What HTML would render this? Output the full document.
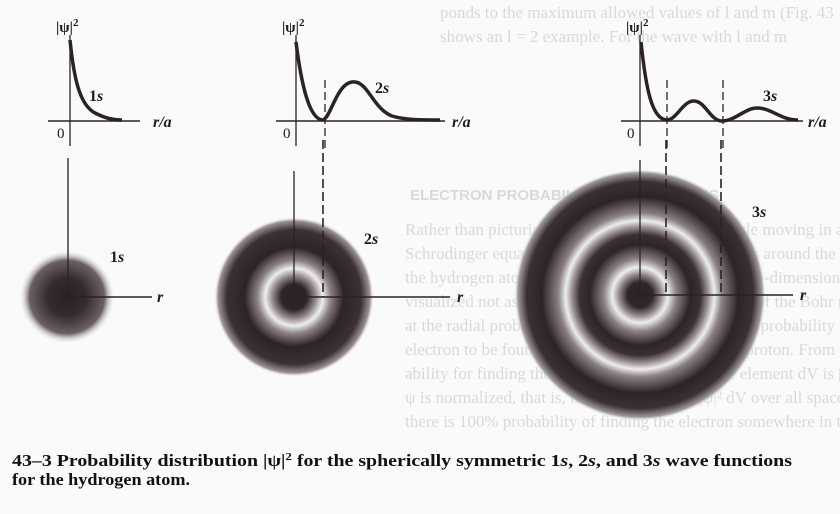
<!DOCTYPE html>
<html><head><meta charset="utf-8"><style>
html,body{margin:0;padding:0;background:#fafafa;}
svg{display:block;}
</style></head><body>
<svg width="840" height="514" viewBox="0 0 840 514" xmlns="http://www.w3.org/2000/svg">
<defs>
<radialGradient id="g1" cx="0.5" cy="0.5" r="0.5">
<stop offset="0" stop-color="#2a2026"/>
<stop offset="0.4" stop-color="#342a30"/>
<stop offset="0.78" stop-color="#6a6065"/>
<stop offset="1" stop-color="#fafafa" stop-opacity="0"/>
</radialGradient>
<radialGradient id="g2" cx="0.5" cy="0.5" r="0.5">
<stop offset="0" stop-color="#2a2026"/>
<stop offset="0.16" stop-color="#2e2429"/>
<stop offset="0.26" stop-color="#8a8085"/>
<stop offset="0.36" stop-color="#eeeeee"/>
<stop offset="0.46" stop-color="#8a8085"/>
<stop offset="0.62" stop-color="#2d2328"/>
<stop offset="0.84" stop-color="#3a3035"/>
<stop offset="0.95" stop-color="#9a9095"/>
<stop offset="1" stop-color="#fafafa" stop-opacity="0"/>
</radialGradient>
<radialGradient id="g3" cx="0.5" cy="0.5" r="0.5">
<stop offset="0" stop-color="#2a2026"/>
<stop offset="0.1" stop-color="#30262b"/>
<stop offset="0.16" stop-color="#8a8085"/>
<stop offset="0.22" stop-color="#eeeeee"/>
<stop offset="0.29" stop-color="#8a8085"/>
<stop offset="0.4" stop-color="#2d2328"/>
<stop offset="0.48" stop-color="#3a3035"/>
<stop offset="0.54" stop-color="#9a9095"/>
<stop offset="0.59" stop-color="#eeeeee"/>
<stop offset="0.65" stop-color="#8a8085"/>
<stop offset="0.78" stop-color="#2d2328"/>
<stop offset="0.9" stop-color="#3a3035"/>
<stop offset="0.97" stop-color="#a09a9d"/>
<stop offset="1" stop-color="#fafafa" stop-opacity="0"/>
</radialGradient>
</defs>

<g font-family="Liberation Serif, serif" font-size="17" fill="#d9d9d9">
<text x="440" y="18">ponds to the maximum allowed values of l and m (Fig. 43</text>
<text x="440" y="42">shows an l = 2 example. For the wave with l and m</text>
<text x="410" y="200" font-family="Liberation Sans, sans-serif" font-weight="bold" font-size="15">ELECTRON PROBABILITY DISTRIBUTIONS</text>
<text x="405" y="235">Rather than picturing the electron as a point particle moving in a precise circle, the</text>
<text x="405" y="259">Schrodinger equation gives probability distributions around the nucleus. Because</text>
<text x="405" y="283">the hydrogen atom probability distributions are three-dimensional, they are</text>
<text x="405" y="307">visualized not as the sharply defined circular orbits of the Bohr model. It's helpful</text>
<text x="405" y="331">at the radial probability distribution P(r), that is, the probability per unit radial length</text>
<text x="405" y="355">electron to be found at various distances from the proton. From Section 42-6 the prob-</text>
<text x="405" y="379">ability for finding the electron in a small volume element dV is |ψ|² dV. (We assume that</text>
<text x="405" y="403">ψ is normalized, that is, that the integral of |ψ|² dV over all space equals unity so that</text>
<text x="405" y="427">there is 100% probability of finding the electron somewhere in the universe.) Let's take</text>
</g>

<ellipse cx="67" cy="297" rx="48" ry="47" fill="url(#g1)"/>
<circle cx="294" cy="297" r="80" fill="url(#g2)"/>
<circle cx="640" cy="295" r="126" fill="url(#g3)"/>

<g stroke="#2a2226" fill="none">
<line x1="68" y1="158" x2="68" y2="297" stroke-width="1.3"/>
<line x1="68" y1="297" x2="152" y2="297" stroke-width="1.5"/>
<line x1="294" y1="171" x2="294" y2="297" stroke-width="1.3"/>
<line x1="294" y1="297" x2="450" y2="297" stroke-width="1.5"/>
<line x1="323" y1="140" x2="323" y2="297" stroke-width="1.6" stroke-dasharray="9,4"/>
<line x1="640" y1="160" x2="640" y2="295" stroke-width="1.3"/>
<line x1="640" y1="295" x2="793" y2="295" stroke-width="1.5"/>
<line x1="666" y1="140" x2="666" y2="295" stroke-width="1.6" stroke-dasharray="9,4"/>
<line x1="721" y1="140" x2="721" y2="295" stroke-width="1.6" stroke-dasharray="9,4"/>

<line x1="70" y1="35" x2="70" y2="146" stroke-width="1.3"/>
<line x1="48" y1="121" x2="140" y2="121" stroke-width="1.4"/>
<line x1="296" y1="35" x2="296" y2="146" stroke-width="1.3"/>
<line x1="276" y1="121" x2="445" y2="121" stroke-width="1.4"/>
<line x1="325" y1="80" x2="325" y2="150" stroke-width="1.3" stroke-dasharray="8,4"/>
<line x1="640" y1="35" x2="640" y2="146" stroke-width="1.3"/>
<line x1="621" y1="121" x2="803" y2="121" stroke-width="1.4"/>
<line x1="667" y1="80" x2="667" y2="150" stroke-width="1.3" stroke-dasharray="8,4"/>
<line x1="723" y1="80" x2="723" y2="150" stroke-width="1.3" stroke-dasharray="8,4"/>

<path d="M70,40 C74,80 80,105 95,113 C105,118 112,120 122,120" stroke-width="3.5"/>
<path d="M296,42 C302,90 310,118 322,120 C330,121 336,84 352,82 C368,80 372,108 392,116 C405,120 420,120 440,120" stroke-width="3.5"/>
<path d="M641,42 C646,90 652,118 666,120 C676,121 682,102 693,101 C705,100 710,121 722,121 C735,121 745,108 757,108 C772,108 780,120 798,120" stroke-width="3.5"/>
</g>

<g font-family="Liberation Serif, serif" fill="#1e1a1c" font-size="16">
<text x="56" y="32" font-weight="bold" font-size="15">|ψ|<tspan dy="-6" font-size="11">2</tspan></text>
<text x="282" y="32" font-weight="bold" font-size="15">|ψ|<tspan dy="-6" font-size="11">2</tspan></text>
<text x="626" y="32" font-weight="bold" font-size="15">|ψ|<tspan dy="-6" font-size="11">2</tspan></text>
<text x="57" y="138" font-size="15">0</text>
<text x="283" y="138" font-size="15">0</text>
<text x="627" y="138" font-size="15">0</text>
<text x="89" y="101" font-weight="bold">1<tspan font-style="italic">s</tspan></text>
<text x="375" y="93" font-weight="bold">2<tspan font-style="italic">s</tspan></text>
<text x="763" y="101" font-weight="bold">3<tspan font-style="italic">s</tspan></text>
<text x="153" y="127" font-style="italic" font-weight="bold">r/a</text>
<text x="452" y="127" font-style="italic" font-weight="bold">r/a</text>
<text x="808" y="127" font-style="italic" font-weight="bold">r/a</text>
<text x="110" y="262" font-weight="bold">1<tspan font-style="italic">s</tspan></text>
<text x="364" y="244" font-weight="bold">2<tspan font-style="italic">s</tspan></text>
<text x="752" y="217" font-weight="bold">3<tspan font-style="italic">s</tspan></text>
<text x="157" y="302" font-style="italic" font-weight="bold">r</text>
<text x="457" y="302" font-style="italic" font-weight="bold">r</text>
<text x="800" y="300" font-style="italic" font-weight="bold">r</text>
</g>

<g font-family="Liberation Serif, serif" font-weight="bold" font-size="17" fill="#111">
<text x="12" y="466" textLength="780" lengthAdjust="spacingAndGlyphs">43–3  Probability distribution |ψ|<tspan dy="-6" font-size="11">2</tspan><tspan dy="6"> for the spherically symmetric 1</tspan><tspan font-style="italic">s</tspan>, 2<tspan font-style="italic">s</tspan>, and 3<tspan font-style="italic">s</tspan> wave functions</text>
<text x="12" y="485" textLength="178" lengthAdjust="spacingAndGlyphs">for the hydrogen atom.</text>
</g>
</svg>
</body></html>
